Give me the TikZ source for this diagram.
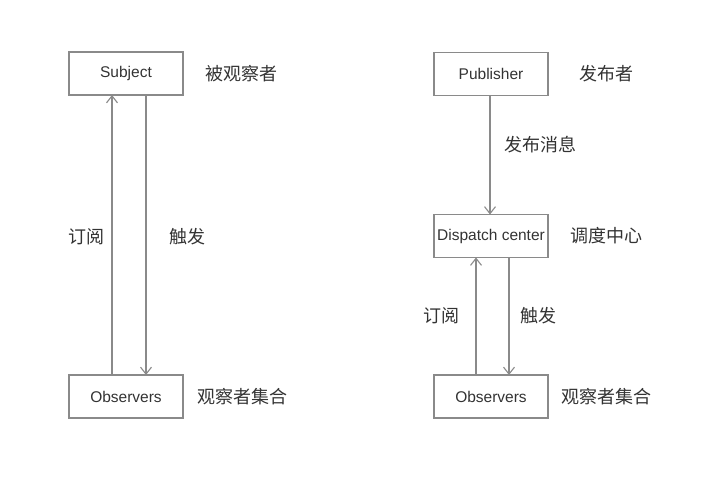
\documentclass[tikz,border=0pt]{standalone}
\usepackage{fontspec}
\setmainfont{Liberation Sans}
\newfontfamily\cjk{Noto Sans CJK SC}
\usetikzlibrary{arrows.meta}
\definecolor{linegray}{HTML}{8A8A8A}
\definecolor{txtgray}{HTML}{333333}
\begin{document}
\begin{tikzpicture}[x=1bp,y=-1bp,
  box/.style={draw=linegray,line width=1.2bp,minimum width=114bp,minimum height=43bp,inner sep=0pt,text=txtgray,font=\fontsize{15.5bp}{17bp}\selectfont},
  lbl/.style={text=txtgray,inner sep=0pt,font=\cjk\fontsize{18bp}{20bp}\selectfont},
  arr/.style={draw=linegray,line width=1.2bp,-{Straight Barb[length=7bp,width=11bp,line width=1.1bp]}}]
\useasboundingbox (0,0) rectangle (702,477);
\fill[white] (0,0) rectangle (702,477);
% left
\node[box] (subj) at (126,73.5) {Subject};
\node[box] (obsL) at (126,396.5) {Observers};
\coordinate (sbL) at (112,95);
\coordinate (otL) at (112,375);
\coordinate (sbR) at (146,95);
\coordinate (otR) at (146,375);
\draw[arr] (otL) -- (sbL);
\draw[arr] (sbR) -- (otR);
\node[lbl] (l1) at (86,237) {订阅};
\node[lbl] (l2) at (187.5,237) {触发};
\node[lbl] (l3) at (241,74) {被观察者};
\node[lbl] (l4) at (242,397) {观察者集合};
% right
\node[box] (pub) at (491,74) {Publisher};
\node[box] (disp) at (491,236) {Dispatch center};
\node[box] (obsR) at (491,396.5) {Observers};
\coordinate (pb) at (490,95.5);
\coordinate (dt) at (490,214.5);
\draw[arr] (pb) -- (dt);
\coordinate (dbL) at (476,257.5);
\coordinate (otL2) at (476,375);
\coordinate (dbR) at (509,257.5);
\coordinate (otR2) at (509,375);
\draw[arr] (otL2) -- (dbL);
\draw[arr] (dbR) -- (otR2);
\node[lbl] (r1) at (606,74) {发布者};
\node[lbl] (r2) at (540,145) {发布消息};
\node[lbl] (r3) at (606,236) {调度中心};
\node[lbl] (r4) at (441,316) {订阅};
\node[lbl] (r5) at (538,316) {触发};
\node[lbl] (r6) at (606,397) {观察者集合};
\end{tikzpicture}
\end{document}
